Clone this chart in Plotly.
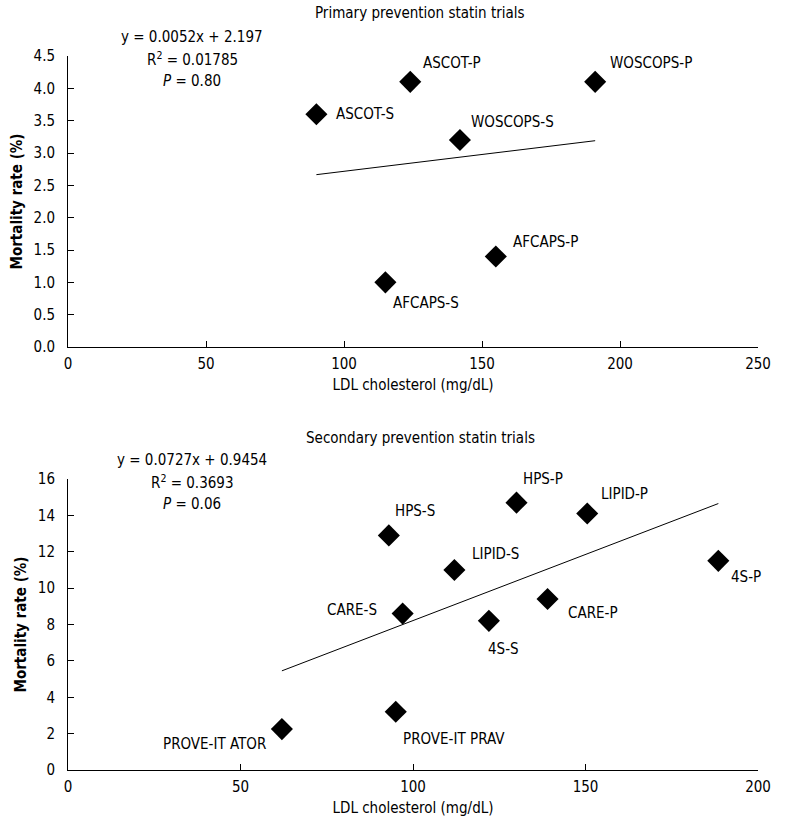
import plotly.graph_objects as go

# ---------------- data ----------------
primary_trials = ["ASCOT-S", "ASCOT-P", "WOSCOPS-P", "WOSCOPS-S", "AFCAPS-P", "AFCAPS-S"]
primary_ldl = [90, 124, 191, 142, 155, 115]
primary_mortality = [3.6, 4.1, 4.1, 3.2, 1.4, 1.0]
primary_fit = [0.0052, 2.197]          # slope, intercept
primary_stats = ["y = 0.0052x + 2.197", "R<sup>2</sup> = 0.01785", "<i>P</i> = 0.80"]

secondary_trials = ["HPS-S", "HPS-P", "LIPID-P", "LIPID-S", "4S-P", "CARE-S",
                    "CARE-P", "4S-S", "PROVE-IT PRAV", "PROVE-IT ATOR"]
secondary_ldl = [93, 130, 150.5, 112, 188.5, 97, 139, 122, 95, 62]
secondary_mortality = [12.9, 14.7, 14.1, 11.0, 11.5, 8.6, 9.4, 8.2, 3.2, 2.25]
secondary_fit = [0.0727, 0.9454]
secondary_stats = ["y = 0.0727x + 0.9454", "R<sup>2</sup> = 0.3693", "<i>P</i> = 0.06"]

panel_titles = ["Primary prevention statin trials", "Secondary prevention statin trials"]
x_title = "LDL cholesterol (mg/dL)"
y_title = "Mortality rate (%)"

# ---------------- styling / layout ----------------
W, H = 788, 830
ML, MR, MT, MB = 68, 30, 56, 60
PW, PH = W - ML - MR, H - MT - MB
FONT = "DejaVu Sans Condensed, DejaVu Sans, sans-serif"
FS = 15

def px2x(p):
    return (p - ML) / PW

def px2y(p):
    return (H - MB - p) / PH

# label offsets (pixels): (xshift, yshift, xanchor)
primary_offsets = [(18, 0, "left"), (11, 19, "left"), (13, 19, "left"),
                   (9, 18, "left"), (15, 14, "left"), (6, -21, "left")]
secondary_offsets = [(4, 24, "left"), (4, 24, "left"), (12, 20, "left"), (16, 16, "left"),
                     (11, -16, "left"), (-24, 4, "right"), (18, -14, "left"),
                     (-3, -28, "left"), (5, -27, "left"), (-14, -15, "right")]

fig = go.Figure()

panels = [
    (primary_ldl, primary_mortality, primary_trials, primary_fit, primary_offsets, "x", "y"),
    (secondary_ldl, secondary_mortality, secondary_trials, secondary_fit, secondary_offsets, "x2", "y2"),
]

annotations = []
for xs, ys, names, fit, offs, xa, ya in panels:
    x0, x1 = min(xs), max(xs)
    fig.add_trace(go.Scatter(
        x=[x0, x1], y=[fit[0] * x0 + fit[1], fit[0] * x1 + fit[1]],
        mode="lines", line=dict(color="black", width=1),
        xaxis=xa, yaxis=ya, showlegend=False, hoverinfo="skip"))
    fig.add_trace(go.Scatter(
        x=xs, y=ys, mode="markers",
        marker=dict(symbol="diamond", size=17, color="black"),
        xaxis=xa, yaxis=ya, showlegend=False))
    for xv, yv, nm, (dx, dy, anc) in zip(xs, ys, names, offs):
        annotations.append(dict(
            x=xv, y=yv, xref=xa, yref=ya, text=nm, showarrow=False,
            xanchor=anc, yanchor="middle", xshift=dx, yshift=dy,
            font=dict(family=FONT, size=FS, color="black")))

# panel titles and regression stats (reference pixel positions)
title_py = [13, 438]
stats_py = [[37, 59, 81], [460, 482, 504]]
for t, tp, stats, sp in zip(panel_titles, title_py, [primary_stats, secondary_stats], stats_py):
    annotations.append(dict(x=px2x(420), y=px2y(tp), xref="paper", yref="paper",
                            text=t, showarrow=False, xanchor="center", yanchor="middle",
                            font=dict(family=FONT, size=FS, color="black")))
    for s, p in zip(stats, sp):
        annotations.append(dict(x=px2x(192), y=px2y(p), xref="paper", yref="paper",
                                text=s, showarrow=False, xanchor="center", yanchor="middle",
                                font=dict(family=FONT, size=FS, color="black")))

axis_common = dict(
    showline=True, linecolor="black", linewidth=1, mirror=False,
    ticks="inside", ticklen=6, tickcolor="black", tickwidth=1,
    showgrid=False, zeroline=False,
    tickfont=dict(family=FONT, size=FS, color="black"),
)

fig.update_layout(
    width=W, height=H,
    margin=dict(l=ML, r=MR, t=MT, b=MB),
    plot_bgcolor="white", paper_bgcolor="white",
    font=dict(family=FONT, size=FS, color="black"),
    showlegend=False,
    xaxis=dict(**axis_common, domain=[0, 1], range=[0, 250], dtick=50, anchor="y",
               ticklabelstandoff=3,
               title=dict(text=x_title, standoff=7, font=dict(family=FONT, size=FS))),
    yaxis=dict(**axis_common, domain=[px2y(347), 1], range=[0, 4.5], dtick=0.5,
               tickformat=".1f", anchor="x", ticklabelstandoff=9,
               title=dict(text="<b>" + y_title + "</b>", standoff=7, font=dict(family=FONT, size=FS))),
    xaxis2=dict(**axis_common, domain=[0, 1], range=[0, 200], dtick=50, anchor="y2",
                ticklabelstandoff=3,
                title=dict(text=x_title, standoff=7, font=dict(family=FONT, size=FS))),
    yaxis2=dict(**axis_common, domain=[0, px2y(479)], range=[0, 16], dtick=2,
                anchor="x2", ticklabelstandoff=9,
                title=dict(text="<b>" + y_title + "</b>", standoff=7, font=dict(family=FONT, size=FS))),
    annotations=annotations,
)

fig.write_html("out.html", config={"displayModeBar": False},
               post_script="document.body.style.margin='0';")
